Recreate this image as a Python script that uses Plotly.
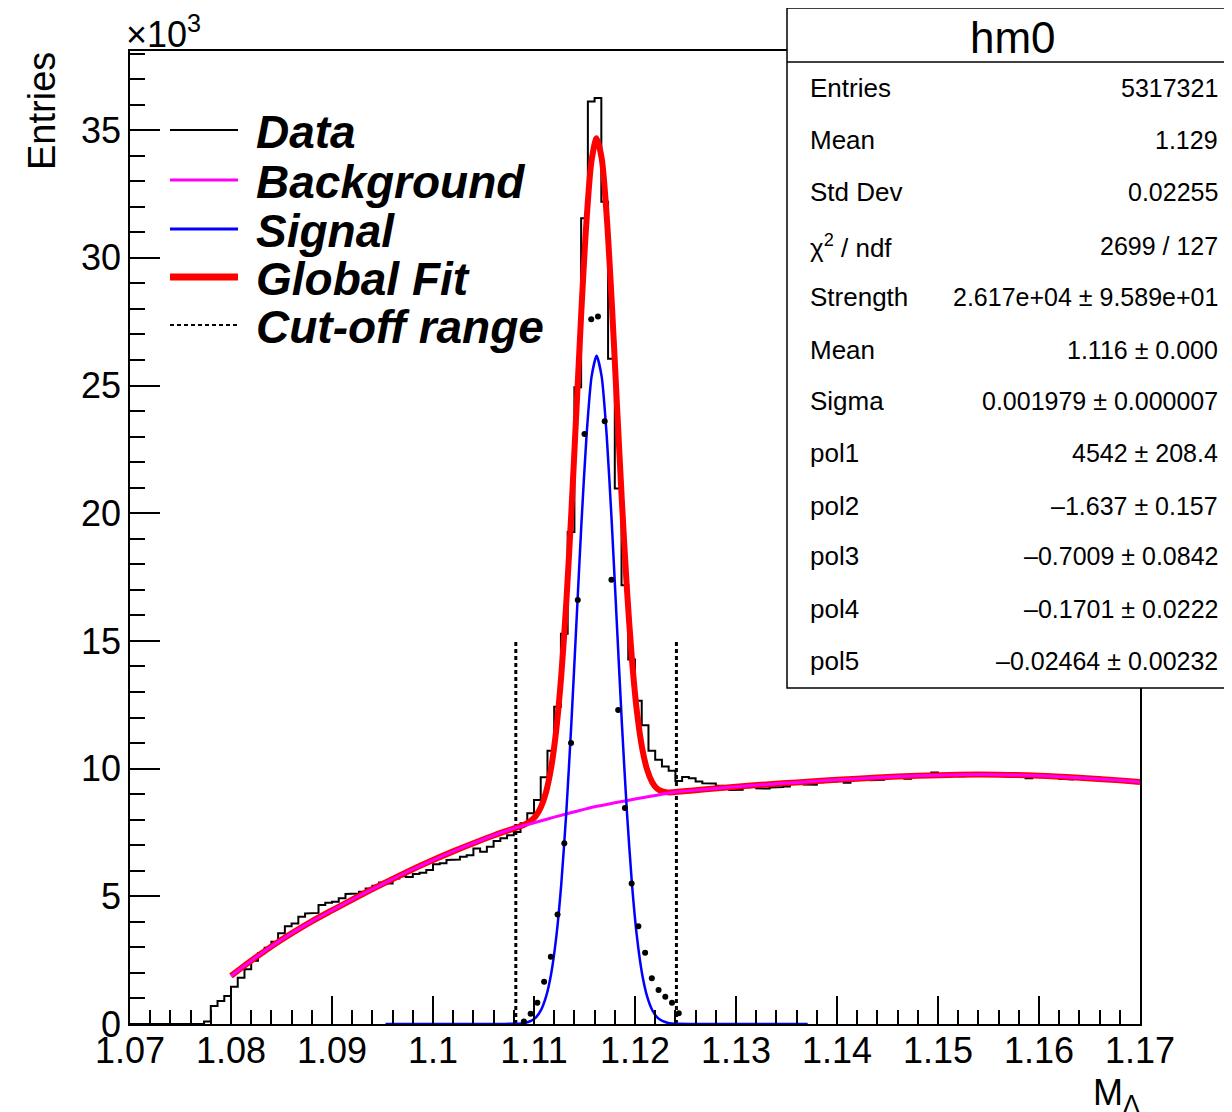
import numpy as np
import plotly.graph_objects as go

# ---------------- data (values in units of 10^3 entries) ----------------
X_MIN, X_MAX = 1.07, 1.17
Y_MAX = 38.1
N_BINS = 150

counts = [
    0, 0, 0, 0, 0, 0, 0, 0, 0, 0,
    0, 0.10, 0.70, 0.90, 1.10, 1.46, 1.81, 2.14, 2.48, 2.77,
    2.99, 3.22, 3.55, 3.83, 3.94, 4.20, 4.33, 4.35, 4.66, 4.75,
    4.79, 4.92, 5.09, 5.11, 5.18, 5.31, 5.41, 5.54, 5.50, 5.70,
    5.79, 5.76, 5.87, 5.92, 6.03, 6.26, 6.29, 6.42, 6.44, 6.55,
    6.61, 6.87, 6.74, 6.94, 7.17, 7.27, 7.39, 7.52, 7.86, 8.25,
    8.77, 9.66, 10.70, 12.42, 15.28, 19.27, 24.93, 31.55, 36.12, 36.26,
    32.20, 26.05, 20.97, 17.18, 14.27, 12.66, 11.70, 10.70, 10.35, 10.08,
    9.92, 9.52, 9.67, 9.62, 9.50, 9.43, 9.42, 9.33, 9.27, 9.16,
    9.17, 9.27, 9.31, 9.23, 9.22, 9.26, 9.28, 9.30, 9.40, 9.44,
    9.38, 9.37, 9.47, 9.52, 9.50, 9.55, 9.45, 9.56, 9.62, 9.63,
    9.55, 9.56, 9.66, 9.69, 9.70, 9.60, 9.68, 9.72, 9.74, 9.85,
    9.68, 9.74, 9.76, 9.70, 9.78, 9.83, 9.76, 9.74, 9.76, 9.73,
    9.75, 9.72, 9.70, 9.62, 9.70, 9.68, 9.67, 9.74, 9.60, 9.58,
    9.62, 9.60, 9.57, 9.66, 9.55, 9.52, 9.55, 9.56, 9.54, 9.55,
]

# background-subtracted points (data - background) inside the cut-off window
sub_first_bin = 58
sub_values = [0.10, 0.40, 0.83, 1.65, 2.63, 4.29, 7.08, 11.0, 16.6, 23.1, 27.6, 27.7,
              23.6, 17.4, 12.3, 8.46, 5.5, 3.83, 2.79, 1.79, 1.33, 1.07, 0.83, 0.42]

# background fit curve
bkg_x = [1.080, 1.082, 1.085, 1.088, 1.090, 1.093, 1.095, 1.098, 1.100, 1.102, 1.104,
         1.106, 1.108, 1.110, 1.112, 1.114, 1.116, 1.118, 1.120, 1.122, 1.124, 1.127,
         1.130, 1.133, 1.136, 1.140, 1.144, 1.148, 1.152, 1.156, 1.160, 1.164, 1.168, 1.170]
bkg_y = [1.88, 2.48, 3.30, 4.02, 4.45, 5.08, 5.48, 6.06, 6.42, 6.76, 7.08,
         7.38, 7.66, 7.88, 8.10, 8.31, 8.51, 8.66, 8.81, 8.95, 9.08, 9.19,
         9.29, 9.38, 9.46, 9.56, 9.65, 9.72, 9.76, 9.76, 9.72, 9.64, 9.54, 9.48]

# signal (gaussian) curve
sig_x = [1.0953, 1.1030, 1.1060,
         1.1082, 1.1087, 1.1092, 1.1097, 1.1102, 1.1107, 1.1112, 1.1117, 1.1122, 1.1127,
         1.1132, 1.1137, 1.1142, 1.1147, 1.1152, 1.1157, 1.1162, 1.1167, 1.1172, 1.1177,
         1.1182, 1.1187, 1.1192, 1.1197, 1.1202, 1.1207, 1.1212, 1.1217, 1.1222, 1.1227,
         1.1232, 1.1237, 1.1242,
         1.1265, 1.1300, 1.1371]
sig_y = [0, 0, 0,
         0.01, 0.02, 0.05, 0.12, 0.26, 0.55, 1.08, 1.97, 3.39, 5.48,
         8.30, 11.78, 15.70, 19.63, 23.03, 25.35, 26.17, 25.35, 23.03, 19.63,
         15.70, 11.78, 8.30, 5.48, 3.39, 1.97, 1.08, 0.55, 0.26, 0.12,
         0.05, 0.02, 0.01,
         0, 0, 0]

# global fit curve (background + signal)
fit_x = [1.080, 1.082, 1.085, 1.088, 1.090, 1.093, 1.095, 1.098, 1.100, 1.102, 1.104, 1.106,
         1.1082, 1.1087, 1.1092, 1.1097, 1.1102, 1.1107, 1.1112, 1.1117, 1.1122, 1.1127,
         1.1132, 1.1137, 1.1142, 1.1147, 1.1152, 1.1157, 1.1162, 1.1167, 1.1172, 1.1177,
         1.1182, 1.1187, 1.1192, 1.1197, 1.1202, 1.1207, 1.1212, 1.1217, 1.1222, 1.1227,
         1.1232, 1.1237, 1.1242,
         1.127, 1.130, 1.133, 1.136, 1.140, 1.144, 1.148, 1.152, 1.156, 1.160, 1.164, 1.168, 1.170]
fit_y = [1.88, 2.48, 3.30, 4.02, 4.45, 5.08, 5.48, 6.06, 6.42, 6.76, 7.08, 7.38,
         7.68, 7.75, 7.84, 7.96, 8.16, 8.51, 9.09, 10.04, 11.51, 13.65,
         16.52, 20.05, 24.02, 28.00, 31.45, 33.82, 34.68, 33.90, 31.62, 28.26,
         24.36, 20.48, 17.04, 14.26, 12.20, 10.82, 9.96, 9.47, 9.21, 9.11,
         9.07, 9.07, 9.09,
         9.19, 9.29, 9.38, 9.46, 9.56, 9.65, 9.72, 9.76, 9.76, 9.72, 9.64, 9.54, 9.48]

cut_x = [1.1082, 1.1241]
cut_top = 15.0

x_tickvals = [1.07, 1.08, 1.09, 1.10, 1.11, 1.12, 1.13, 1.14, 1.15, 1.16, 1.17]
x_ticklabels = ["1.07", "1.08", "1.09", "1.1", "1.11", "1.12", "1.13", "1.14", "1.15", "1.16", "1.17"]
y_tickvals = [0, 5, 10, 15, 20, 25, 30, 35]
y_ticklabels = ["0", "5", "10", "15", "20", "25", "30", "35"]

stats_title = "hm0"
stats_labels = ["Entries", "Mean", "Std Dev", "χ<sup>2</sup> / ndf", "Strength", "Mean", "Sigma",
                "pol1", "pol2", "pol3", "pol4", "pol5"]
stats_values = ["5317321", "1.129", "0.02255", "2699 / 127", "2.617e+04 ± 9.589e+01",
                "1.116 ± 0.000", "0.001979 ± 0.000007", "4542 ± 208.4", "–1.637 ± 0.157",
                "–0.7009 ± 0.0842", "–0.1701 ± 0.0222", "–0.02464 ± 0.00232"]

legend_labels = ["Data", "Background", "Signal", "Global Fit", "Cut-off range"]

# ---------------- figure ----------------
FONT = "Liberation Sans, Arial, Helvetica, sans-serif"
OFF = 8                      # page body margin of the html page
W, H = 1232 - OFF, 1112 - OFF
PL, PR, PT, PB = 130, 1140, 51, 1024      # plot frame in page pixels
L, T = PL - OFF, PT - OFF
R, B = W - (PR - OFF), H - (PB - OFF)
PW, PH = PR - PL, PB - PT


def xp(px):
    return (px - PL) / PW


def yp(py):
    return (PB - py) / PH


edges = np.linspace(X_MIN, X_MAX, N_BINS + 1)
centers = 0.5 * (edges[:-1] + edges[1:])
hist_x = np.repeat(edges, 2)[1:-1]
hist_y = np.repeat(np.array(counts, dtype=float), 2)

fig = go.Figure()

fig.add_trace(go.Scatter(x=hist_x, y=hist_y, mode="lines",
                         line=dict(color="black", width=2), name="Data", hoverinfo="skip"))

for cx in cut_x:
    fig.add_trace(go.Scatter(x=[cx, cx], y=[0, cut_top], mode="lines",
                             line=dict(color="black", width=3, dash="4px,3px"),
                             name="Cut-off range", hoverinfo="skip"))

fig.add_trace(go.Scatter(x=fit_x, y=fit_y, mode="lines", line_shape="spline",
                         line=dict(color="#ff0000", width=6, smoothing=0.8), name="Global Fit"))
fig.add_trace(go.Scatter(x=bkg_x, y=bkg_y, mode="lines", line_shape="spline",
                         line=dict(color="#ff00ff", width=3, smoothing=0.8), name="Background"))
fig.add_trace(go.Scatter(x=sig_x, y=sig_y, mode="lines", line_shape="spline",
                         line=dict(color="#0000ff", width=2.5, smoothing=0.6), name="Signal"))

sub_x = centers[sub_first_bin:sub_first_bin + len(sub_values)]
fig.add_trace(go.Scatter(x=sub_x, y=sub_values, mode="markers",
                         marker=dict(color="black", size=6), name="Data - Bkg"))

shapes = []
annotations = []

# ---- legend (drawn by hand, ROOT style) ----
leg_rows = [130, 180, 229, 277, 325]
leg_styles = [dict(color="black", width=2),
              dict(color="#ff00ff", width=3),
              dict(color="#0000ff", width=3),
              dict(color="#ff0000", width=7),
              dict(color="black", width=2, dash="4px,3px")]
for lab, ry, st in zip(legend_labels, leg_rows, leg_styles):
    shapes.append(dict(type="line", xref="paper", yref="paper",
                       x0=xp(170), x1=xp(238), y0=yp(ry), y1=yp(ry), line=st))
    annotations.append(dict(text="<b><i>%s</i></b>" % lab, xref="paper", yref="paper",
                            x=xp(254), y=yp(ry + 2), xanchor="left", yanchor="middle",
                            showarrow=False, font=dict(family=FONT, size=46, color="black")))

# ---- stats box ----
bx0, bx1, by0, by1, bsep = 787, 1229, 8, 688, 62
shapes.append(dict(type="rect", xref="paper", yref="paper", x0=xp(bx0), x1=xp(bx1),
                   y0=yp(by1), y1=yp(by0), line=dict(color="black", width=1.5),
                   fillcolor="white", layer="above"))
shapes.append(dict(type="line", xref="paper", yref="paper", x0=xp(bx0), x1=xp(bx1),
                   y0=yp(bsep), y1=yp(bsep), line=dict(color="black", width=1.5), layer="above"))
annotations.append(dict(text=stats_title, xref="paper", yref="paper", x=xp(1013), y=yp(37),
                        xanchor="center", yanchor="middle", showarrow=False,
                        font=dict(family=FONT, size=44, color="black")))
row_y = [88, 140, 192, 246, 297, 350, 401, 453, 506, 556, 609, 661]
for lab, val, ry in zip(stats_labels, stats_values, row_y):
    annotations.append(dict(text=lab, xref="paper", yref="paper", x=xp(808), y=yp(ry),
                            xanchor="left", yanchor="middle", showarrow=False,
                            font=dict(family=FONT, size=26, color="black")))
    annotations.append(dict(text=val, xref="paper", yref="paper", x=xp(1220), y=yp(ry),
                            xanchor="right", yanchor="middle", showarrow=False,
                            font=dict(family=FONT, size=25, color="black")))

# ---- axis titles / exponent ----
annotations.append(dict(text="Entries", xref="paper", yref="paper", x=xp(42), y=yp(50),
                        xanchor="center", yanchor="top", textangle=-90, showarrow=False,
                        font=dict(family=FONT, size=38, color="black")))
annotations.append(dict(text="×10<sup>3</sup>", xref="paper", yref="paper", x=xp(124), y=yp(57),
                        xanchor="left", yanchor="bottom", showarrow=False,
                        font=dict(family=FONT, size=36, color="black")))
annotations.append(dict(text="M<sub>Λ</sub>", xref="paper", yref="paper", x=xp(1142), y=yp(1070),
                        xanchor="right", yanchor="top", showarrow=False,
                        font=dict(family=FONT, size=36, color="black")))

axis_common = dict(showline=True, linecolor="black", linewidth=1.5, mirror=True,
                   ticks="inside", tickcolor="black", tickwidth=1.5,
                   showgrid=False, zeroline=False,
                   tickfont=dict(family=FONT, size=36, color="black"))

fig.update_layout(
    width=W, height=H,
    margin=dict(l=L, r=R, t=T, b=B),
    paper_bgcolor="white", plot_bgcolor="white",
    showlegend=False,
    shapes=shapes, annotations=annotations,
    xaxis=dict(range=[X_MIN, X_MAX], tickmode="array", tickvals=x_tickvals, ticktext=x_ticklabels,
               ticklen=28, ticklabelstandoff=-6,
               minor=dict(tickmode="linear", tick0=X_MIN, dtick=0.002, ticks="inside", ticklen=14,
                          tickcolor="black", tickwidth=1.5, showgrid=False),
               **axis_common),
    yaxis=dict(range=[0, Y_MAX], tickmode="array", tickvals=y_tickvals, ticktext=y_ticklabels,
               ticklen=30,
               minor=dict(tickmode="linear", tick0=0, dtick=1, ticks="inside", ticklen=15,
                          tickcolor="black", tickwidth=1.5, showgrid=False),
               **axis_common),
)

fig.write_html("out.html")
